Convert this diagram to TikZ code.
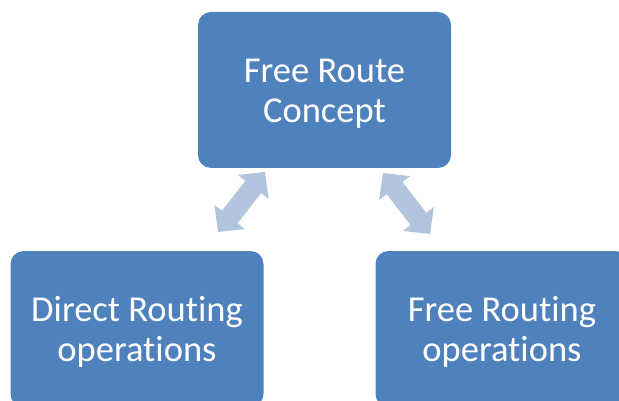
\documentclass[tikz,border=0pt]{standalone}
\usepackage{fontspec}
\setmainfont{Carlito}[Ligatures={NoCommon}]
\usetikzlibrary{arrows.meta}
\definecolor{boxblue}{HTML}{4F81BD}
\definecolor{arrowblue}{HTML}{B3C4DE}
\newcommand{\firstlinestrut}{\rule{0pt}{30pt}}
\begin{document}
\begin{tikzpicture}[x=1pt,y=-1pt,
  box/.style={fill=boxblue, rounded corners=13pt, text=white,
    font=\fontsize{36.5}{40}\selectfont, align=center,
    minimum width=253pt, minimum height=156pt, inner sep=0pt},
  dblarrow/.style={draw=arrowblue, line width=20pt,
    {Triangle[width=38pt,length=19pt]}-{Triangle[width=38pt,length=19pt]}}]
\useasboundingbox (0,0) rectangle (619,401);
\clip (0,0) rectangle (619,401);
\node[box] (top) at (324.5,90) {\firstlinestrut Free Route\\Concept};
\node[box] (left) at (137,329) {\firstlinestrut Direct Routing\\operations};
\node[box] (right) at (502,329) {\firstlinestrut Free Routing\\operations};
\coordinate (la) at (265,172);
\coordinate (lb) at (218,232);
\coordinate (ra) at (383,173);
\coordinate (rb) at (430,234);
\draw[dblarrow] (la) -- (lb);
\draw[dblarrow] (ra) -- (rb);
\end{tikzpicture}
\end{document}
